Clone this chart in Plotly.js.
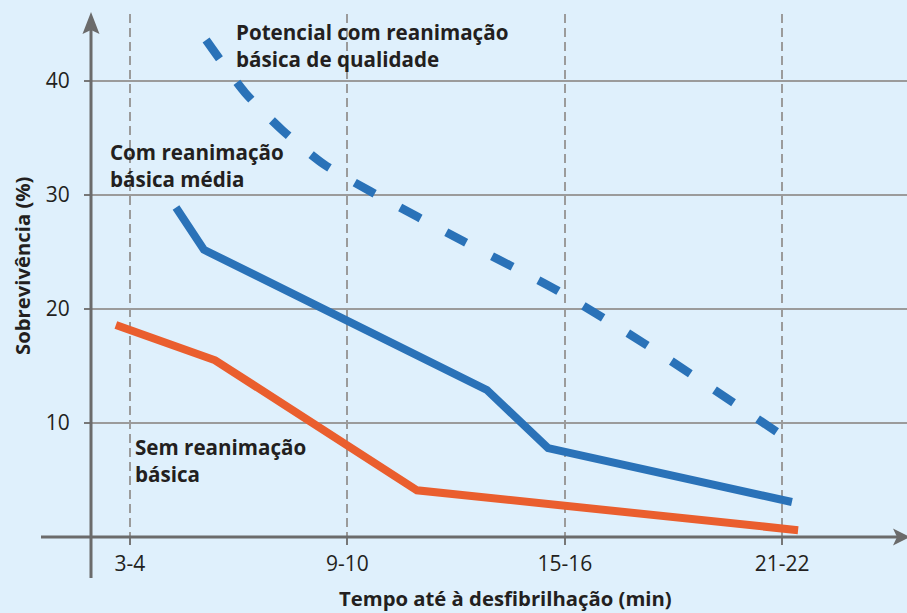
<!DOCTYPE html>
<html>
<head>
<meta charset="utf-8">
<script src="https://cdn.plot.ly/plotly-3.0.1.min.js"></script>
<style>
  html, body { margin: 0; padding: 0; background: #dff0fc; }
  #chart { width: 907px; height: 613px; }
</style>
</head>
<body>
<div id="chart"></div>
<script>
// ---- data ----
const tickPositions = [3.5, 9.5, 15.5, 21.5];
const tickLabels = ['3-4', '9-10', '15-16', '21-22'];
const yTickValues = [10, 20, 30, 40];

const semX = [3.11, 5.85, 11.42, 21.94];
const semY = [18.6, 15.5, 4.1, 0.6];

const mediaX = [4.77, 5.54, 13.35, 15.04, 21.77];
const mediaY = [28.9, 25.2, 12.9, 7.8, 3.07];

const potX = [5.60, 6.67, 7.70, 8.85, 10.12, 12.69, 15.31, 17.83, 21.8];
const potY = [43.6, 39.0, 35.7, 32.7, 30.35, 25.96, 21.6, 16.7, 8.25];

const labelPot = 'Potencial com reanimação<br>básica de qualidade';
const labelMedia = 'Com reanimação<br>básica média';
const labelSem = 'Sem reanimação<br>básica';
const xTitle = 'Tempo até à desfibrilhação (min)';
const yTitle = 'Sobrevivência (%)';

// ---- layout helpers (pixel -> paper) ----
const L = 91, T = 14, W = 816, H = 523;
const px = v => (v - L) / W;
const py = v => (T + H - v) / H;

const BLUE = '#2a72b8', ORANGE = '#ea5e2e', AXIS = '#6b6b6b', GRID = '#9b9b9b', TXT = '#231f20';
const FONT = '"Open Sans", "Noto Sans", sans-serif';

const traces = [
  { x: potX, y: potY, mode: 'lines', line: { color: BLUE, width: 8.5, dash: '23px,29px', shape: 'spline', smoothing: 0.7 }, hoverinfo: 'skip' },
  { x: mediaX, y: mediaY, mode: 'lines', line: { color: BLUE, width: 8 }, hoverinfo: 'skip' },
  { x: semX, y: semY, mode: 'lines', line: { color: ORANGE, width: 8 }, hoverinfo: 'skip' }
];

function tri(pts) {
  return 'M' + pts.map(p => px(p[0]).toFixed(5) + ',' + py(p[1]).toFixed(5)).join(' L') + ' Z';
}

const annFont = { size: 20.6, weight: 700, color: TXT, family: FONT };

const layout = {
  width: 907, height: 613,
  margin: { l: L, r: 0, t: T, b: 613 - T - H },
  paper_bgcolor: '#dff0fc',
  plot_bgcolor: 'rgba(0,0,0,0)',
  showlegend: false,
  font: { family: FONT, color: TXT },
  xaxis: {
    range: [2.4236, 24.946],
    tickvals: tickPositions, ticktext: tickLabels,
    ticks: 'outside', ticklen: 7, tickwidth: 2, tickcolor: '#777',
    ticklabelstandoff: 1,
    tickfont: { size: 21, color: TXT, family: FONT },
    showgrid: true, gridcolor: GRID, gridwidth: 2, griddash: '9px,5px',
    zeroline: false, showline: false, fixedrange: true
  },
  yaxis: {
    range: [0, 45.88],
    tickvals: yTickValues,
    ticks: 'outside', ticklen: 6, tickwidth: 2, tickcolor: '#777',
    ticklabelstandoff: 10,
    tickfont: { size: 21, color: TXT, family: FONT },
    showgrid: true, gridcolor: GRID, gridwidth: 2,
    zeroline: false, showline: false, fixedrange: true
  },
  shapes: [
    { type: 'line', xref: 'paper', yref: 'paper', x0: px(41), x1: px(897), y0: 0, y1: 0,
      line: { color: AXIS, width: 3 }, layer: 'above' },
    { type: 'line', xref: 'paper', yref: 'paper', x0: 0, x1: 0, y0: py(578), y1: py(30),
      line: { color: AXIS, width: 3 }, layer: 'above' },
    { type: 'path', xref: 'paper', yref: 'paper', layer: 'above',
      path: tri([[91, 12], [82.5, 34], [91, 30], [99.5, 34]]),
      fillcolor: AXIS, line: { width: 0 } },
    { type: 'path', xref: 'paper', yref: 'paper', layer: 'above',
      path: tri([[910, 537], [893, 528.5], [897, 537], [893, 545.5]]),
      fillcolor: AXIS, line: { width: 0 } }
  ],
  annotations: [
    { text: labelPot, xref: 'paper', yref: 'paper', x: px(234), y: py(45), xanchor: 'left', yanchor: 'middle',
      align: 'left', showarrow: false, font: annFont },
    { text: labelMedia, xref: 'paper', yref: 'paper', x: px(108), y: py(165), xanchor: 'left', yanchor: 'middle',
      align: 'left', showarrow: false, font: annFont },
    { text: labelSem, xref: 'paper', yref: 'paper', x: px(133), y: py(460), xanchor: 'left', yanchor: 'middle',
      align: 'left', showarrow: false, font: annFont },
    { text: xTitle, xref: 'paper', yref: 'paper', x: px(505), y: py(598), xanchor: 'center', yanchor: 'middle',
      showarrow: false, font: { size: 20.3, weight: 700, color: TXT, family: FONT } },
    { text: yTitle, xref: 'paper', yref: 'paper', x: px(22), y: py(266), xanchor: 'center', yanchor: 'middle',
      textangle: -90, showarrow: false, font: { size: 20.3, weight: 700, color: TXT, family: FONT } }
  ]
};

Plotly.newPlot('chart', traces, layout, { displayModeBar: false, staticPlot: true });
</script>
</body>
</html>
